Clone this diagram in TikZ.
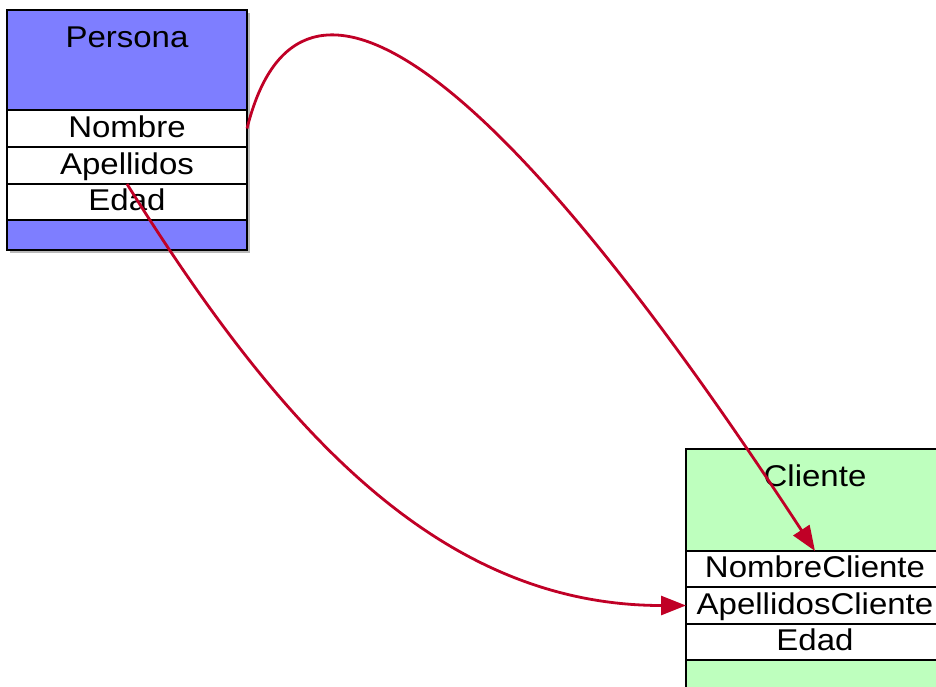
\documentclass[tikz,border=0pt]{standalone}
\usepackage{fontspec}
\setmainfont{Liberation Sans}[FakeStretch=1.1]
\usetikzlibrary{shadows,arrows.meta}
\definecolor{classblue}{RGB}{126,126,255}
\definecolor{classgreen}{RGB}{190,255,190}
\definecolor{linkred}{RGB}{192,0,38}
\begin{document}
\begin{tikzpicture}[x=1pt,y=-1pt,
  classbox/.style={draw=black, line width=1.5pt, inner sep=0pt, outer sep=0pt,
    drop shadow={shadow xshift=3pt, shadow yshift=-3pt, opacity=0.55}},
  classname/.style={font=\fontsize{30}{35}\selectfont, inner sep=0pt},
  field/.style={draw=black, line width=1.5pt, fill=white, inner sep=0pt, outer sep=0pt,
    font=\fontsize{30}{35}\selectfont, text height=22pt, text depth=5pt},
  link/.style={draw=linkred, line width=2.8pt, -{Triangle[length=25pt,width=19pt]}}]
\useasboundingbox (0,0) rectangle (936,686);

% class Persona
\node[classbox, fill=classblue, minimum width=240pt, minimum height=240pt] (persona) at (127,130) {};
\node[classname] (personaname) at (127,37) {Persona};
\node[field, minimum width=240pt, minimum height=37pt] (pnombre) at (127,128.5) {Nombre};
\node[field, minimum width=240pt, minimum height=37pt] (pape) at (127,165.5) {Apellidos};
\node[field, minimum width=240pt, minimum height=36pt] (pedad) at (127,202) {Edad};

% class Cliente
\node[classbox, fill=classgreen, minimum width=258pt, minimum height=271pt] (cliente) at (815,584.5) {};
\node[classname] (clientename) at (815,476) {Cliente};
\node[field, minimum width=258pt, minimum height=36pt] (cnombre) at (815,569) {NombreCliente};
\node[field, minimum width=258pt, minimum height=37pt] (cape) at (815,605.5) {ApellidosCliente};
\node[field, minimum width=258pt, minimum height=36pt] (cedad) at (815,642) {Edad};

% field mappings
\draw[link] (pnombre.east) .. controls +(52,-208) and +(-320,-490) .. (cnombre.north);
\draw[link] (pape.south) .. controls +(150,240) and +(-250,0) .. (cape.west);
\end{tikzpicture}
\end{document}
